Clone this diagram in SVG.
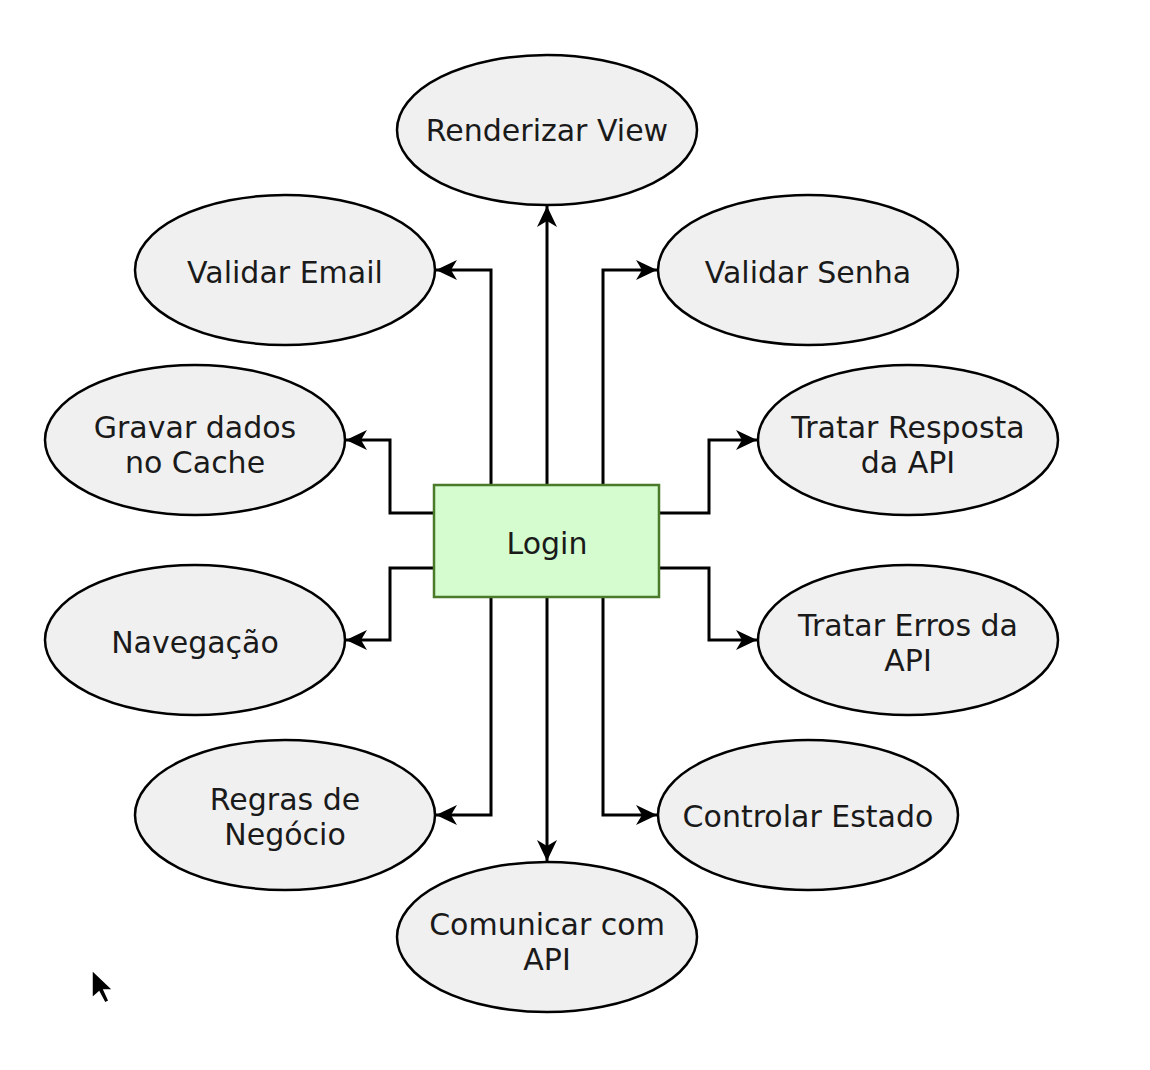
<svg xmlns="http://www.w3.org/2000/svg" width="1150" height="1070" viewBox="0 0 1150 1070">
<defs>
<marker id="arr" markerUnits="userSpaceOnUse" markerWidth="24" markerHeight="20" refX="21" refY="10" orient="auto">
<path d="M0,0 L21,10 L0,20 L6,10 z" fill="#000"/>
</marker>
<style>
.oval{fill:#f0f0f0;stroke:#000;stroke-width:2.5}
.lbl{font-family:"DejaVu Sans",Verdana,sans-serif;font-size:30px;fill:#1a1a1a;text-anchor:middle}
.con{fill:none;stroke:#000;stroke-width:3;marker-end:url(#arr)}
</style>
</defs>
<rect width="1150" height="1070" fill="#fff"/>
<g id="connectors">
<path class="con" d="M547,485 L547,206"/>
<path class="con" d="M491,485 L491,270 L436,270"/>
<path class="con" d="M603,485 L603,270 L657,270"/>
<path class="con" d="M434,513 L390,513 L390,440 L346,440"/>
<path class="con" d="M659,513 L709,513 L709,440 L757,440"/>
<path class="con" d="M434,568 L390,568 L390,640 L346,640"/>
<path class="con" d="M659,568 L709,568 L709,640 L757,640"/>
<path class="con" d="M491,597 L491,815 L436,815"/>
<path class="con" d="M603,597 L603,815 L657,815"/>
<path class="con" d="M547,597 L547,861"/>
</g>
<g id="login">
<rect x="434" y="485" width="225" height="112" fill="#d4fccf" stroke="#4a7a2a" stroke-width="2.5"/>
<text class="lbl" x="547" y="554">Login</text>
</g>
<g id="renderizar-view">
<ellipse class="oval" cx="547" cy="130" rx="150" ry="75"/>
<text class="lbl" x="547" y="141">Renderizar View</text>
</g>
<g id="validar-email">
<ellipse class="oval" cx="285" cy="270" rx="150" ry="75"/>
<text class="lbl" x="285" y="283">Validar Email</text>
</g>
<g id="validar-senha">
<ellipse class="oval" cx="808" cy="270" rx="150" ry="75"/>
<text class="lbl" x="808" y="283">Validar Senha</text>
</g>
<g id="gravar-cache">
<ellipse class="oval" cx="195" cy="440" rx="150" ry="75"/>
<text class="lbl" x="195" y="438">Gravar dados</text>
<text class="lbl" x="195" y="473">no Cache</text>
</g>
<g id="tratar-resposta">
<ellipse class="oval" cx="908" cy="440" rx="150" ry="75"/>
<text class="lbl" x="908" y="438">Tratar Resposta</text>
<text class="lbl" x="908" y="473">da API</text>
</g>
<g id="navegacao">
<ellipse class="oval" cx="195" cy="640" rx="150" ry="75"/>
<text class="lbl" x="195" y="653">Navegação</text>
</g>
<g id="tratar-erros">
<ellipse class="oval" cx="908" cy="640" rx="150" ry="75"/>
<text class="lbl" x="908" y="636">Tratar Erros da</text>
<text class="lbl" x="908" y="671">API</text>
</g>
<g id="regras-negocio">
<ellipse class="oval" cx="285" cy="815" rx="150" ry="75"/>
<text class="lbl" x="285" y="810">Regras de</text>
<text class="lbl" x="285" y="845">Negócio</text>
</g>
<g id="controlar-estado">
<ellipse class="oval" cx="808" cy="815" rx="150" ry="75"/>
<text class="lbl" x="808" y="827">Controlar Estado</text>
</g>
<g id="comunicar-api">
<ellipse class="oval" cx="547" cy="937" rx="150" ry="75"/>
<text class="lbl" x="547" y="935">Comunicar com</text>
<text class="lbl" x="547" y="970">API</text>
</g>
<path d="M92,970 L92,998 L99,992 L105,1003 L109,1001 L104,990 L113,990 z" fill="#000" stroke="#fff" stroke-width="1.5"/>
</svg>
